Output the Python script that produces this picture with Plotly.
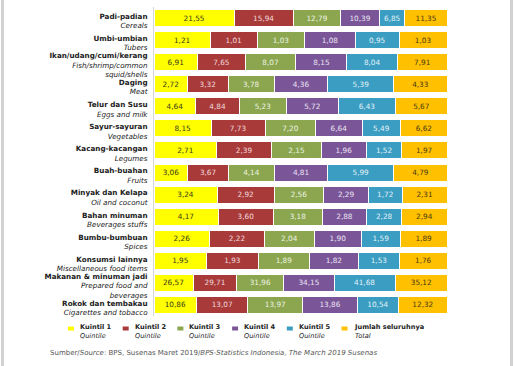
import plotly.graph_objects as go

# ---------------- data ----------------
categories_id = ["Padi-padian", "Umbi-umbian", "Ikan/udang/cumi/kerang", "Daging",
                 "Telur dan Susu", "Sayur-sayuran", "Kacang-kacangan", "Buah-buahan",
                 "Minyak dan Kelapa", "Bahan minuman", "Bumbu-bumbuan",
                 "Konsumsi lainnya", "Makanan & minuman jadi", "Rokok dan tembakau"]
categories_en = ["Cereals", "Tubers", "Fish/shrimp/common\nsquid/shells", "Meat",
                 "Eggs and milk", "Vegetables", "Legumes", "Fruits", "Oil and coconut",
                 "Beverages stuffs", "Spices", "Miscellaneous food items",
                 "Prepared food and\nbeverages", "Cigarettes and tobacco"]

kuintil_1 = [21.55, 1.21, 6.91, 2.72, 4.64, 8.15, 2.71, 3.06, 3.24, 4.17, 2.26, 1.95, 26.57, 10.86]
kuintil_2 = [15.94, 1.01, 7.65, 3.32, 4.84, 7.73, 2.39, 3.67, 2.92, 3.60, 2.22, 1.93, 29.71, 13.07]
kuintil_3 = [12.79, 1.03, 8.07, 3.78, 5.23, 7.20, 2.15, 4.14, 2.56, 3.18, 2.04, 1.89, 31.96, 13.97]
kuintil_4 = [10.39, 1.08, 8.15, 4.36, 5.72, 6.64, 1.96, 4.81, 2.29, 2.88, 1.90, 1.82, 34.15, 13.86]
kuintil_5 = [6.85, 0.95, 8.04, 5.39, 6.43, 5.49, 1.52, 5.99, 1.72, 2.28, 1.59, 1.53, 41.68, 10.54]
total = [11.35, 1.03, 7.91, 4.33, 5.67, 6.62, 1.97, 4.79, 2.31, 2.94, 1.89, 1.76, 35.12, 12.32]

series_names = ["Kuintil 1", "Kuintil 2", "Kuintil 3", "Kuintil 4", "Kuintil 5", "Jumlah seluruhnya"]
series_sub = ["Quintile", "Quintile", "Quintile", "Quintile", "Quintile", "Total"]
series_values = [kuintil_1, kuintil_2, kuintil_3, kuintil_4, kuintil_5, total]

source_text = ("Sumber/<i>Source</i>: BPS, Susenas Maret 2019/"
               "<i>BPS-Statistics Indonesia, The March 2019 Susenas</i>")

# ---------------- style ----------------
colors = ["#FFFF00", "#A83A3A", "#8BA64F", "#7A5699", "#3A9DC1", "#FFC000"]
text_colors = ["#3a3a1a", "#F2DADA", "#EEF3E2", "#ECE4F2", "#E2F2F8", "#4a3a10"]
FONT = "DejaVu Sans"

L, R, T, B = 154, 447, 7, 316
W, H = 514, 366


def px2x(px):
    return (px - L) / (R - L)


def py2y(py):
    return 1 - (py - T) / (B - T)


def fmt(v):
    return f"{v:.2f}".replace(".", ",")


fig = go.Figure()
for name, vals, c, tc in zip(series_names, series_values, colors, text_colors):
    fig.add_trace(go.Bar(
        y=categories_id, x=vals, orientation="h", name=name,
        marker=dict(color=c, line=dict(color="white", width=1)),
        text=[fmt(v) for v in vals], texttemplate="%{text}",
        textposition="inside", insidetextanchor="middle", textangle=0,
        textfont=dict(family=FONT, size=7.3, color=tc),
        showlegend=False, hoverinfo="skip",
    ))

ticktext = [f"<b>{a}</b><br><i>{b.replace(chr(10), '<br>')}</i>"
            for a, b in zip(categories_id, categories_en)]

fig.update_layout(
    width=W, height=H,
    margin=dict(l=L, r=W - R, t=T, b=H - B, autoexpand=False),
    paper_bgcolor="white", plot_bgcolor="white",
    barmode="stack", barnorm="percent", bargap=0.23,
    uniformtext=dict(minsize=7, mode="show"),
    font=dict(family=FONT, color="#222222"),
    xaxis=dict(range=[0, 100], visible=False, fixedrange=True, automargin=False),
    yaxis=dict(autorange="reversed", tickvals=categories_id, ticktext=ticktext,
               tickfont=dict(family=FONT, size=7.2, color="#222222"),
               showline=True, linecolor="#d6d6d6", linewidth=1, automargin=False,
               ticks="", showgrid=False, ticklabelstandoff=4, ticklabelshift=-3),
)

# legend (drawn manually to match layout)
shapes = []
annotations = []
for i, (name, sub, c) in enumerate(zip(series_names, series_sub, colors)):
    x0 = 68 + i * 54.7
    shapes.append(dict(type="rect", xref="paper", yref="paper",
                       x0=px2x(x0), x1=px2x(x0 + 6), y0=py2y(330.5), y1=py2y(326.5),
                       fillcolor=c, line=dict(width=0)))
    annotations.append(dict(xref="paper", yref="paper", x=px2x(x0 + 10), y=py2y(331),
                            xanchor="left", yanchor="middle", align="left",
                            text=f"<b>{name}</b><br><i>{sub}</i>", showarrow=False,
                            font=dict(family=FONT, size=6.6, color="#222222")))

annotations.append(dict(xref="paper", yref="paper", x=px2x(48), y=py2y(352.5),
                        xanchor="left", yanchor="middle", text=source_text,
                        showarrow=False, font=dict(family=FONT, size=7, color="#555555")))

# page edges
shapes.append(dict(type="line", xref="paper", yref="paper", x0=px2x(2.5), x1=px2x(2.5),
                   y0=py2y(0), y1=py2y(H), line=dict(color="#d2d2d2", width=3)))
shapes.append(dict(type="line", xref="paper", yref="paper", x0=px2x(511.5), x1=px2x(511.5),
                   y0=py2y(0), y1=py2y(H), line=dict(color="#d2d2d2", width=3)))

fig.update_layout(shapes=shapes, annotations=annotations)
fig.write_html("out.html", config={"displayModeBar": False, "staticPlot": True},
               post_script="document.body.style.margin='0';document.body.style.overflow='hidden';")
